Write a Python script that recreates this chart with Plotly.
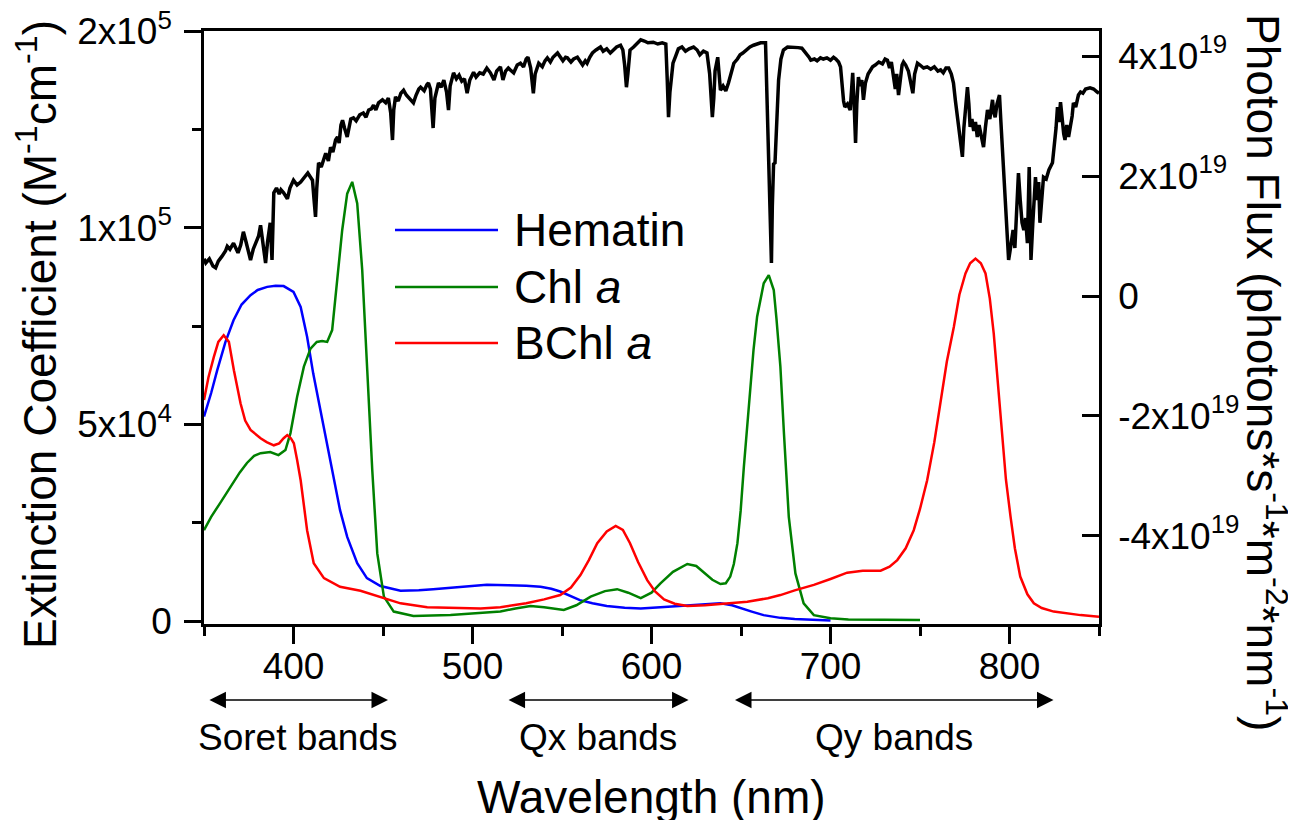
import plotly.graph_objects as go

# ---------------- data ----------------
# Solar photon flux (units of 1e19 photons s^-1 m^-2 nm^-1)
sun_nm = [350, 351, 353, 355, 356.5, 358, 360, 362, 363, 364.5, 366.5, 368, 369, 370.5, 372, 373.5, 375, 376, 377.5, 379,
          380.5, 381.6, 382.5, 383.5, 384.4, 385.5, 386.5, 387, 388, 389, 390.5, 392, 393, 394.5, 396.6, 398, 400, 402, 404, 406,
          408, 409.5, 410.6, 411.5, 412.3, 413, 414, 415.5, 417, 418, 419.5, 420.7, 422, 423.5, 424.6, 425.5, 426.5, 427.4, 428.5, 430,
          431, 432, 433.5, 435, 437, 439, 440.5, 442, 443.5, 444.7, 446, 447.5, 449.7, 451.5, 453, 454.3, 455.3, 456, 457, 458.5,
          460, 461.5, 463, 465, 467, 468.5, 470, 471, 473, 474.5, 475.4, 476.5, 477.3, 478, 479, 481, 482.5, 484, 485.5, 486.6,
          487.5, 489.4, 491, 492.5, 494, 495.5, 497, 498.5, 500.6, 502, 504, 506, 508, 510, 512, 513.5, 515.6, 517, 518.5, 520,
          521, 523, 525, 526.8, 528.5, 530, 531, 532.5, 534, 535, 537, 539, 540.5, 541.8, 543.5, 545, 547.5, 549, 550.5, 552,
          553, 555, 556.5, 558.6, 560, 561.5, 563, 564, 565.5, 567, 569, 571.5, 573, 575, 577, 578.8, 580.5, 582.7, 584, 585,
          586, 586.8, 588, 590, 592, 594, 596, 598, 601, 603.5, 606, 608, 608.8, 609.5, 610.3, 611, 612, 613.5, 615, 617,
          619, 621, 623.5, 625.5, 627, 629, 631, 632.5, 633.3, 634, 634.8, 635.5, 637, 637.8, 638.5, 640, 641.5, 643, 644.5, 646,
          648, 649.5, 651, 653, 655, 657, 659, 661, 663.7, 664.4, 665, 665.6, 666.3, 667, 667.5, 668.2, 669, 670, 671, 672.3,
          673.7, 676, 679, 682, 684, 686, 688, 689, 691, 692.5, 694.4, 696, 698, 700, 701.7, 703, 704.5, 705.6, 706.5, 707.3,
          708, 709.5, 711, 711.8, 712.4, 713.2, 714, 714.7, 715.6, 716.5, 717.5, 718.4, 719.5, 721, 722.5, 723.5, 725, 727, 729, 730.5,
          731.8, 733, 734, 735, 736.2, 737, 738, 739, 740, 740.8, 742, 743.5, 744.5, 745.3, 746, 747, 748.6, 750, 752, 754,
          756, 758, 760, 761.5, 763, 764.5, 766, 767.5, 768.7, 769.8, 771, 772, 773, 773.7, 774.5, 775.5, 776.5, 777.3, 778, 779,
          780, 781, 782, 783, 784, 785.5, 786.5, 787.7, 789, 790.5, 791.3, 792, 793, 794.4, 795.2, 796, 797, 797.8, 798.7, 799.5,
          800.3, 801, 802, 803, 804, 805, 806, 807, 808, 809, 810, 811, 811.5, 812, 813, 814.5, 815.5, 816.3, 817, 818,
          819, 820.5, 822, 824, 825, 826, 826.8, 827.6, 828.5, 829.5, 830.3, 831, 832, 833, 834, 835, 835.7, 837, 838.5, 839.7,
          841, 842.5, 845, 847, 849, 850]
sun_flux = [0.62, 0.55, 0.62, 0.50, 0.47, 0.58, 0.66, 0.75, 0.83, 0.78, 0.88, 0.80, 0.72, 0.85, 1.07, 0.90, 0.75, 0.60, 0.78, 0.88,
            1.00, 1.18, 0.95, 0.70, 0.55, 0.90, 1.10, 1.22, 0.60, 1.72, 1.80, 1.70, 1.77, 1.72, 1.62, 1.80, 1.93, 1.85, 1.90, 1.98,
            2.05, 1.98, 1.93, 1.60, 1.32, 1.80, 2.22, 2.15, 2.32, 2.38, 2.25, 2.48, 2.40, 2.60, 2.65, 2.55, 2.85, 2.93, 2.80, 2.65,
            2.80, 2.95, 2.97, 2.92, 3.02, 3.05, 2.98, 3.10, 3.12, 3.18, 3.10, 3.22, 3.27, 3.22, 3.30, 3.05, 2.60, 3.10, 3.32, 3.25,
            3.38, 3.43, 3.35, 3.28, 3.22, 3.35, 3.45, 3.48, 3.42, 3.52, 3.55, 3.45, 3.10, 2.80, 3.30, 3.55, 3.48, 3.60, 3.40, 3.10,
            3.50, 3.72, 3.62, 3.68, 3.58, 3.62, 3.38, 3.60, 3.73, 3.65, 3.72, 3.70, 3.80, 3.72, 3.60, 3.75, 3.82, 3.60, 3.75, 3.80,
            3.77, 3.72, 3.85, 3.88, 3.82, 3.95, 3.98, 3.80, 3.38, 3.70, 3.88, 3.82, 3.92, 3.97, 3.90, 3.98, 4.05, 3.98, 3.92, 3.98,
            3.97, 3.90, 3.95, 3.98, 3.92, 3.85, 3.92, 3.88, 3.98, 4.05, 4.10, 4.15, 4.08, 4.12, 4.05, 4.10, 4.15, 4.18, 4.10, 3.85,
            3.48, 3.70, 4.10, 4.15, 4.22, 4.27, 4.25, 4.22, 4.23, 4.20, 4.22, 4.20, 3.60, 2.98, 3.40, 3.60, 3.88, 4.00, 4.12, 4.15,
            4.08, 4.12, 4.15, 4.10, 4.02, 4.08, 4.05, 3.70, 3.20, 2.98, 3.30, 3.75, 3.98, 3.60, 3.43, 3.50, 3.42, 3.55, 3.70, 3.88,
            3.95, 4.02, 4.05, 4.10, 4.15, 4.18, 4.20, 4.22, 4.22, 3.40, 2.48, 1.80, 1.20, 0.55, 1.50, 2.20, 2.22, 2.90, 3.60, 3.95,
            4.10, 4.15, 4.15, 4.14, 4.13, 4.06, 3.98, 3.93, 3.95, 3.92, 3.97, 3.95, 3.97, 3.93, 3.98, 3.95, 3.90, 3.82, 3.50, 3.25,
            3.15, 3.20, 3.10, 3.55, 3.72, 3.20, 2.55, 3.20, 3.65, 3.50, 3.60, 3.27, 3.55, 3.70, 3.78, 3.82, 3.85, 3.90, 3.87, 3.95,
            3.93, 3.80, 3.90, 3.65, 3.45, 3.70, 3.35, 3.60, 3.85, 3.90, 3.85, 3.75, 3.60, 3.45, 3.38, 3.70, 3.88, 3.85, 3.80, 3.82,
            3.78, 3.82, 3.75, 3.77, 3.72, 3.80, 3.80, 3.70, 3.55, 3.25, 2.98, 2.70, 2.45, 2.32, 2.80, 3.10, 3.48, 3.20, 2.82, 2.95,
            2.75, 2.90, 2.65, 2.85, 2.70, 2.48, 2.80, 3.10, 2.95, 3.27, 3.05, 2.98, 3.20, 3.35, 2.90, 2.48, 2.00, 1.65, 1.10, 0.60,
            0.75, 0.95, 1.10, 0.80, 1.40, 2.05, 1.60, 1.22, 1.10, 1.30, 0.88, 2.15, 1.40, 0.60, 1.20, 1.98, 1.60, 1.90, 1.22, 1.60,
            1.98, 1.95, 2.10, 2.22, 2.50, 2.80, 3.15, 2.90, 3.23, 2.90, 2.70, 2.60, 2.85, 2.65, 2.82, 3.00, 3.22, 3.15, 3.35, 3.40,
            3.38, 3.45, 3.47, 3.45, 3.40, 3.38]

# Extinction coefficients (units of 1e3 M^-1 cm^-1)
hem_nm = [350, 354, 357.4, 362, 366.5, 371, 376, 380, 385.3, 390, 394.5, 400, 404, 407.6, 411, 415, 418.8, 422.4, 426, 430,
          435.6, 441, 448.6, 459.8, 470, 478, 490, 500, 508, 520, 530, 538, 544, 549, 555, 560, 567, 575, 585, 594,
          605, 616, 628, 638.5, 645, 650, 656, 662.6, 667, 672, 680, 690, 700]
hem_eps = [52, 58, 63.8, 71, 76.5, 80.5, 82.9, 84.2, 85, 85.3, 85.2, 83.7, 79.9, 72.3, 63, 53.6, 44.3, 35.8, 28.2, 21.4,
           14.7, 10.9, 8.9, 7.7, 7.8, 8.1, 8.6, 9.0, 9.2, 9.1, 9.0, 8.7, 8.2, 7.5, 6.4, 5.3, 4.5, 3.8, 3.4, 3.2,
           3.5, 3.8, 4.2, 4.5, 4.0, 3.2, 2.4, 1.5, 1.1, 0.8, 0.5, 0.3, 0.1]

chl_nm = [350, 354, 359, 362.5, 366.5, 370, 374, 378, 381.6, 387, 391.6, 395.5, 398.3, 402, 405.8, 409.5, 413, 416, 418.8, 421.6,
          424.4, 427.2, 430, 432.8, 435.6, 438.4, 441.2, 444, 446.8, 450.5, 456, 467, 487.7, 506, 515.6, 524, 532.4, 540, 551, 558,
          566, 574, 580.8, 587, 594, 600, 605, 612, 620, 625, 629, 634, 638.5, 641.5, 644, 646, 648, 649.8, 651.6, 653.5,
          655.3, 657, 659, 661, 662.7, 665.5, 668.3, 669.8, 671, 672, 674, 676.7, 680.4, 685, 690.7, 700, 710, 728, 750]
chl_eps = [23.1, 26.5, 30, 32.5, 35.1, 37.8, 40.2, 42, 42.7, 43, 42.2, 43.5, 47.8, 57, 64.7, 69.3, 71, 71.2, 71, 74,
           86.7, 99.4, 108.7, 111.7, 106.2, 89.2, 63.8, 38.4, 17.2, 6.2, 2.4, 1.3, 1.5, 2.0, 2.4, 3.2, 3.8, 3.5, 2.8, 4.0,
           6.2, 7.6, 8.1, 7.2, 5.8, 7.2, 9.6, 12.5, 14.5, 14.0, 12.5, 10.5, 9.4, 9.6, 11.3, 14.5, 19.8, 28, 39.2, 50,
           60.4, 69, 77.4, 82, 85.9, 88, 84.2, 77, 68.9, 64.7, 47.7, 26.5, 12.1, 4.5, 1.5, 0.7, 0.4, 0.25, 0.25]

bchl_nm = [350, 352.5, 355.5, 358, 361, 363.9, 366.7, 370.4, 373, 376, 381.6, 385, 389, 392, 394.5, 396.5, 398.5, 400.2, 402, 404,
           407.6, 411.3, 417, 426, 437.4, 446.8, 459.8, 474.7, 490, 504.5, 515.6, 530, 540, 549, 555, 560.3, 565, 569.7, 575, 580,
           584, 588, 592.5, 597.6, 602, 607, 613, 620, 630, 638.5, 653.5, 665, 672, 680, 690.7, 700, 709.3, 718, 728, 733,
           737.3, 742, 746.5, 750, 754, 758, 761.5, 765, 768.9, 772, 775.4, 778, 781, 784, 786.6, 789, 791.2, 793.5, 795.9, 798,
           800.6, 803, 806, 810, 813.6, 818, 824.7, 832, 839.7, 850]
bchl_eps = [56.2, 62, 67.2, 71, 72.7, 71, 63.8, 55.4, 51, 48.6, 46.5, 45.5, 44.7, 45.2, 46.5, 47.3, 46.5, 45.2, 41, 35.8,
            23.1, 14.7, 10.9, 8.7, 7.7, 6.4, 4.5, 3.5, 3.4, 3.2, 3.5, 4.5, 5.5, 6.6, 8.5, 11.7, 15.5, 19.8, 22.8, 24.2,
            23.2, 19.8, 15, 10.4, 7.5, 5.5, 4.4, 3.8, 4.0, 4.3, 4.9, 5.8, 6.6, 7.8, 9.2, 10.7, 12.3, 12.8, 12.8, 13.8,
            15.5, 18.5, 23.1, 28.5, 35.8, 45.5, 56.2, 66, 74.8, 83, 88.4, 91, 92.2, 91, 88.4, 82, 73.1, 60, 46.9, 36,
            26.5, 18.5, 11.3, 6.8, 4.5, 3.3, 2.4, 1.9, 1.5, 1.1]

series_names = ["Hematin", "Chl <i>a</i>", "BChl <i>a</i>"]
series_colors = ["#0000ff", "#008000", "#ff0000"]

left_tickvals = [0, 50000, 100000, 150000]
left_ticktext = ["0", "5x10<sup>4</sup>", "1x10<sup>5</sup>", "2x10<sup>5</sup>"]
left_minor = [25000, 75000, 125000]
right_tickvals = [-4e19, -2e19, 0, 2e19, 4e19]
right_ticktext = ["-4x10<sup>19</sup>", "-2x10<sup>19</sup>", "0", "2x10<sup>19</sup>", "4x10<sup>19</sup>"]
x_tickvals = [400, 500, 600, 700, 800]
x_minor = [350, 450, 550, 650, 750, 850]

bands = [("Soret bands", 352.2, 452.8), ("Qx bands", 519.3, 620.7), ("Qy bands", 645.8, 824.6)]

# ---------------- figure ----------------
FONT = "Liberation Sans, Arial, sans-serif"
fig = go.Figure()

fig.add_trace(go.Scatter(x=sun_nm, y=[v * 1e19 for v in sun_flux], yaxis="y2", mode="lines",
                         line=dict(color="black", width=3.5), name="Photon flux", showlegend=False))
for nm, eps, name, col in [(hem_nm, hem_eps, series_names[0], series_colors[0]),
                           (chl_nm, chl_eps, series_names[1], series_colors[1]),
                           (bchl_nm, bchl_eps, series_names[2], series_colors[2])]:
    fig.add_trace(go.Scatter(x=nm, y=[v * 1e3 for v in eps], mode="lines", line=dict(color=col, width=2.5),
                             name=name, showlegend=False))

axis_common = dict(showgrid=False, zeroline=False, showline=True, linecolor="black", linewidth=2.5,
                   tickcolor="black", tickwidth=2.5, tickfont=dict(family=FONT, size=37, color="black"),
                   ticklabeloverflow="allow", automargin=False)

# the page body has an 8px margin, so the figure is 8px smaller and margins shifted
fig.update_layout(
    width=1288, height=812,
    margin=dict(l=196, r=197, t=23, b=196, autoexpand=False),
    paper_bgcolor="white", plot_bgcolor="white",
    showlegend=False,
    font=dict(family=FONT, color="black"),
    xaxis=dict(range=[350, 850], tickmode="array", tickvals=x_tickvals, ticks="outside", ticklen=17, mirror=True,
               ticklabelstandoff=-9,
               minor=dict(tickvals=x_minor, ticks="outside", ticklen=9, tickwidth=2.5, tickcolor="black"),
               **axis_common),
    yaxis=dict(range=[-760, 150080], tickmode="array", tickvals=left_tickvals, ticktext=left_ticktext,
               ticks="outside", ticklen=17, ticklabelstandoff=5,
               minor=dict(tickvals=left_minor, ticks="outside", ticklen=9, tickwidth=2.5, tickcolor="black"),
               **axis_common),
    yaxis2=dict(range=[-5.467e19, 4.417e19], overlaying="y", side="right", tickmode="array",
                tickvals=right_tickvals, ticktext=right_ticktext, ticks="inside", ticklen=17,
                ticklabelstandoff=9, **axis_common),
)

ann = []
# axis titles
ann.append(dict(text="Wavelength (nm)", xref="paper", yref="paper", x=0.5, y=-0.292, showarrow=False,
                font=dict(size=46), xanchor="center", yanchor="middle"))
ann.append(dict(text="Extinction Coefficient (M<sup>-1</sup>cm<sup>-1</sup>)", xref="paper", yref="paper",
                x=-0.1866, y=0.489, textangle=-90, showarrow=False, font=dict(size=46),
                xanchor="center", yanchor="middle"))
ann.append(dict(text="Photon Flux (photons*s<sup>-1</sup>*m<sup>-2</sup>*nm<sup>-1</sup>)", xref="paper", yref="paper",
                x=1.1866, y=0.425, textangle=90, showarrow=False, font=dict(size=46),
                xanchor="center", yanchor="middle"))
# band arrows and labels
for label, a, b in bands:
    ann.append(dict(x=b, y=-0.128, xref="x", yref="paper", ax=a, ay=0, axref="x", ayref="pixel",
                    showarrow=True, arrowside="end+start", arrowhead=2, arrowsize=2.2, arrowwidth=1.5,
                    arrowcolor="black", text="", standoff=0, startstandoff=0))
    ann.append(dict(text=label, x=(a + b) / 2, y=-0.1906, xref="x", yref="paper", showarrow=False,
                    font=dict(size=37), xanchor="center", yanchor="middle"))

# legend (manual, to match long sample lines)
leg_y = [0.6644, 0.5683, 0.4739]
shapes = []
for name, col, yy in zip(series_names, series_colors, leg_y):
    shapes.append(dict(type="line", xref="paper", yref="paper", x0=0.2134, x1=0.3285, y0=yy, y1=yy,
                       line=dict(color=col, width=2.5)))
    ann.append(dict(text=name, xref="paper", yref="paper", x=0.3441, y=yy, showarrow=False,
                    font=dict(size=46), xanchor="left", yanchor="middle"))

fig.update_layout(annotations=ann, shapes=shapes)
fig.write_html("out.html")
